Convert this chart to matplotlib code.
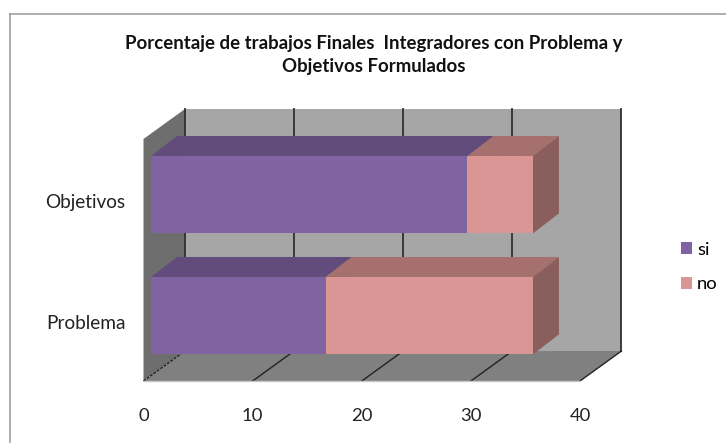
import matplotlib
matplotlib.use('Agg')
import matplotlib.pyplot as plt
from matplotlib.patches import Polygon
from matplotlib.lines import Line2D

categorias = ['Problema', 'Objetivos']
si = [16, 29]
no = [19, 6]
xticks = [0, 10, 20, 30, 40]

plt.rcParams['font.family'] = ['Lato', 'DejaVu Sans']

W, H = 726, 443
fig = plt.figure(figsize=(W / 100, H / 100), dpi=100)
ax = fig.add_axes([143.5 / W, (H - 381) / H, 436.5 / W, 242 / H])
ax.set_xlim(0, 40)
ax.set_ylim(0, 2)

# profundidad de las paredes y de las barras, en unidades de datos
wall_dx, wall_dy = 3.8, 0.248
bar_off_x, bar_off_y = 0.69, 0.04
bar_dx, bar_dy = 2.38, 0.165
bar_h = 0.64


def poly(pts, color, z):
    ax.add_patch(Polygon(pts, closed=True, facecolor=color, edgecolor='none', zorder=z, clip_on=False))


# paredes y piso
poly([(0, 0), (wall_dx, wall_dy), (wall_dx, 2 + wall_dy), (0, 2)], '#6e6e6e', 1)
poly([(0, 0), (wall_dx, wall_dy), (40 + wall_dx, wall_dy), (40, 0)], '#808080', 1)
poly([(wall_dx, wall_dy), (40 + wall_dx, wall_dy), (40 + wall_dx, 2 + wall_dy), (wall_dx, 2 + wall_dy)], '#a6a6a6', 1)

# lineas de grilla
for t in xticks:
    ax.plot([t + wall_dx, t + wall_dx], [wall_dy, 2 + wall_dy], color='#303030', lw=1.3, zorder=2, clip_on=False)
    ax.plot([t, t + wall_dx], [0, wall_dy], color='#222222', lw=1, zorder=2, clip_on=False,
            ls=(0, (2, 1)) if t == 0 else '-')
ax.plot([0, 40], [0, 0], color='#c8c8c8', lw=1, zorder=2, clip_on=False)


def barra3d(y, left, ancho, color, tapa, lado, label):
    ax.barh(y, ancho, height=bar_h, left=left, color=color, zorder=5, label=label)
    top = y + bar_h / 2
    bot = y - bar_h / 2
    right = left + ancho
    poly([(left, top), (left + bar_dx, top + bar_dy), (right + bar_dx, top + bar_dy), (right, top)], tapa, 4)
    poly([(right, top), (right + bar_dx, top + bar_dy), (right + bar_dx, bot + bar_dy), (right, bot)], lado, 4)


for i, cat in enumerate(categorias):
    y = i + 0.5 + bar_off_y
    barra3d(y, bar_off_x, si[i], '#8064a2', '#624c7c', '#4f3d64', 'si' if i == 0 else None)
    barra3d(y, bar_off_x + si[i], no[i], '#d99694', '#a6706f', '#8a5e5d', 'no' if i == 0 else None)

ax.set_xticks(xticks)
ax.set_yticks([0.485, 1.485])
ax.set_yticklabels(categorias)
ax.tick_params(axis='x', length=0, pad=19.5, labelsize=13.3, labelcolor='#222222')
ax.tick_params(axis='y', length=0, pad=13, labelsize=13.7, labelcolor='#222222')
for s in ax.spines.values():
    s.set_visible(False)
ax.patch.set_visible(False)

fig.legend(loc='center left', bbox_to_anchor=(664 / W, (H - 267) / H), frameon=False, fontsize=13.3,
           handlelength=0.6, handleheight=0.6, handletextpad=0.3, labelspacing=1.0)

fig.text(374 / W, (H - 55) / H, 'Porcentaje de trabajos Finales  Integradores con Problema y\nObjetivos Formulados',
         ha='center', va='center', fontsize=13.4, fontweight='bold', color='#111111', linespacing=1.42)

# marco del grafico
fig.add_artist(Line2D([10 / W, 10 / W], [0, (H - 14) / H], color='#a0a0a0', lw=1.2))
fig.add_artist(Line2D([10 / W, 1], [(H - 14) / H, (H - 14) / H], color='#a0a0a0', lw=1.2))

fig.savefig('out.png', dpi=100)
